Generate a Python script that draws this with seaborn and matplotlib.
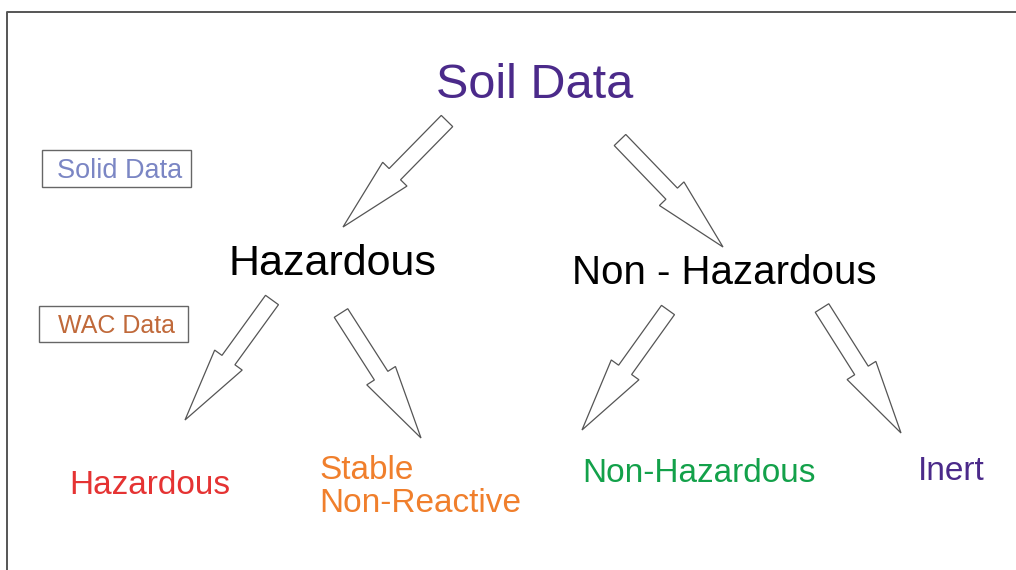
import matplotlib
matplotlib.use('Agg')
import matplotlib.pyplot as plt
from matplotlib.patches import FancyArrow, Rectangle
import seaborn as sns

# Diagram content (pixel coordinates of the 1016x570 canvas)
title = 'Soil Data'
title_pos = (535, 86)

mid_labels = ['Hazardous', 'Non - Hazardous']
mid_pos = [(332, 264), (724, 273)]
mid_sizes = [31, 29]

leaf_labels = ['Hazardous', 'Stable\nNon-Reactive', 'Non-Hazardous', 'Inert']
leaf_pos = [(150, 485), (319, 487), (699, 474), (951, 472)]
leaf_align = ['center', 'left', 'center', 'center']
leaf_colors = ['#E53333', '#F07F2C', '#13A14A', '#4B2A8A']

box_labels = ['Solid Data', 'WAC Data']
box_rects = [(42, 150, 149, 37), (39, 306, 149, 36)]
box_colors = ['#7B86C4', '#C0693A']
box_sizes = [19.5, 18]

# arrow tails (shaft centre) and tips
arrow_tails = [(447, 121), (620, 140), (272, 300), (341, 313), (668, 310), (822, 308)]
arrow_tips = [(343, 227), (723, 247), (185, 420), (421, 438), (582, 430), (901, 433)]

sns.set_theme(style='white')
plt.rcParams['font.family'] = ['Liberation Sans', 'DejaVu Sans']

fig = plt.figure(figsize=(10.16, 5.70), dpi=100)
ax = fig.add_axes([0, 0, 1, 1])
ax.set_xlim(0, 1016)
ax.set_ylim(570, 0)
ax.axis('off')

# frame (left and top edges)
ax.plot([6.5, 6.5, 1016], [570, 11.5, 11.5], color='#555555', lw=1.4)

for (x0, y0), (x1, y1) in zip(arrow_tails, arrow_tips):
    ax.add_patch(FancyArrow(x0, y0, x1 - x0, y1 - y0, width=16, head_width=34,
                            head_length=74, length_includes_head=True,
                            facecolor='white', edgecolor='#555555', lw=0.9))

ax.text(*title_pos, title, color='#4B2A8A', fontsize=35, ha='center', va='center')

for lab, pos, fs in zip(mid_labels, mid_pos, mid_sizes):
    ax.text(*pos, lab, color='black', fontsize=fs, ha='center', va='center')

for lab, pos, al, c in zip(leaf_labels, leaf_pos, leaf_align, leaf_colors):
    ax.text(*pos, lab, color=c, fontsize=24, ha=al, va='center', linespacing=1.12)

for lab, (x, y, w, h), c, fs in zip(box_labels, box_rects, box_colors, box_sizes):
    ax.add_patch(Rectangle((x, y), w, h, facecolor='white', edgecolor='#666666', lw=1.0))
    ax.text(x + w / 2 + 3, y + h / 2 + 2, lab, color=c, fontsize=fs, ha='center', va='center')

fig.savefig('out.png', dpi=100)
